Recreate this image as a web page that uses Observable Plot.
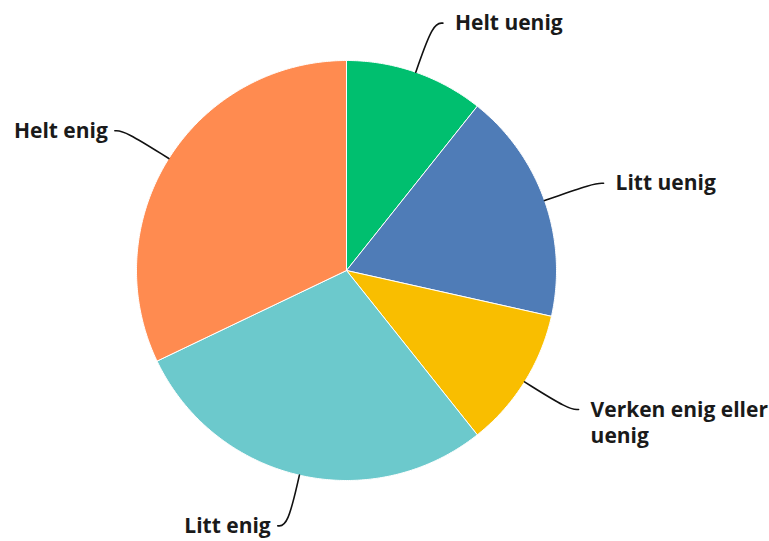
<!DOCTYPE html>
<html>
<head>
<meta charset="utf-8">
<script src="https://cdn.jsdelivr.net/npm/d3@7"></script>
<script src="https://cdn.jsdelivr.net/npm/@observablehq/plot@0.6"></script>
<style>
  html, body { margin: 0; padding: 0; background: #fff; }
</style>
</head>
<body>
<div id="chart"></div>
<script>
// ---- data ----
const categories = ["Helt uenig", "Litt uenig", "Verken enig eller uenig", "Litt enig", "Helt enig"];
const labels = ["Helt uenig", "Litt uenig", "Verken enig eller\nuenig", "Litt enig", "Helt enig"];
const values = [10.7, 17.8, 10.8, 28.6, 32.1];
const colors = ["#00BF6F", "#4F7CB7", "#F9BE00", "#6CC9CC", "#FF8B50"];

// ---- layout ----
const W = 769, H = 541, CX = 346, CY = 270, R = 210;
const R2 = 262 / R;        // radius at which connectors turn horizontal
const stub = 10 / R;       // horizontal connector end length

const table = categories.map((c, i) => ({category: c, label: labels[i], value: values[i]}));
const arcs = d3.pie().sort(null).value(d => d.value)(table);

// slice outlines (computed from the pie angles)
const slicePts = [];
arcs.forEach(a => {
  const c = a.data.category;
  slicePts.push({category: c, x: 0, y: 0});
  const n = Math.max(2, Math.ceil((a.endAngle - a.startAngle) / (Math.PI / 360)));
  for (let k = 0; k <= n; k++) {
    const t = a.startAngle + (a.endAngle - a.startAngle) * k / n;
    slicePts.push({category: c, x: Math.sin(t), y: Math.cos(t)});
  }
  slicePts.push({category: c, x: 0, y: 0});
});

// connectors and label anchors
const connPts = [];
const labelPts = [];
arcs.forEach(a => {
  const c = a.data.category;
  const m = (a.startAngle + a.endAngle) / 2;
  const ex = Math.sin(m), ey = Math.cos(m);
  const ty = R2 * ey;
  const t = (ty - ey) / ey;
  const kx = ex + ex * t;
  const side = ex >= 0 ? 1 : -1;
  const endx = kx + side * stub;
  connPts.push({category: c, x: ex, y: ey});
  connPts.push({category: c, x: kx, y: ty});
  connPts.push({category: c, x: endx, y: ty});
  labelPts.push({label: a.data.label, x: endx, y: ty, side});
});

const fontSize = 21;
const textOpts = {
  x: "x", y: "y", text: "label",
  fontSize, fontWeight: 700, fill: "#1a1a1a",
  lineAnchor: "top", lineHeight: 1.25, dy: -0.36 * fontSize - 4
};

const chart = Plot.plot({
  width: W, height: H, margin: 0,
  x: {domain: [-CX / R, (W - CX) / R], axis: null},
  y: {domain: [-(H - CY) / R, CY / R], axis: null},
  color: {domain: categories, range: colors},
  style: {fontFamily: "'Open Sans', sans-serif", background: "#fff"},
  marks: [
    Plot.line(slicePts, {x: "x", y: "y", z: "category", fill: "category", stroke: "#fff", strokeWidth: 1, strokeLinejoin: "round"}),
    Plot.line(connPts, {x: "x", y: "y", z: "category", curve: "basis", stroke: "#111", strokeWidth: 1.6}),
    Plot.text(labelPts.filter(d => d.side > 0), {...textOpts, textAnchor: "start", dx: 12}),
    Plot.text(labelPts.filter(d => d.side < 0), {...textOpts, textAnchor: "end", dx: -7})
  ]
});
document.getElementById("chart").append(chart);
</script>
</body>
</html>
